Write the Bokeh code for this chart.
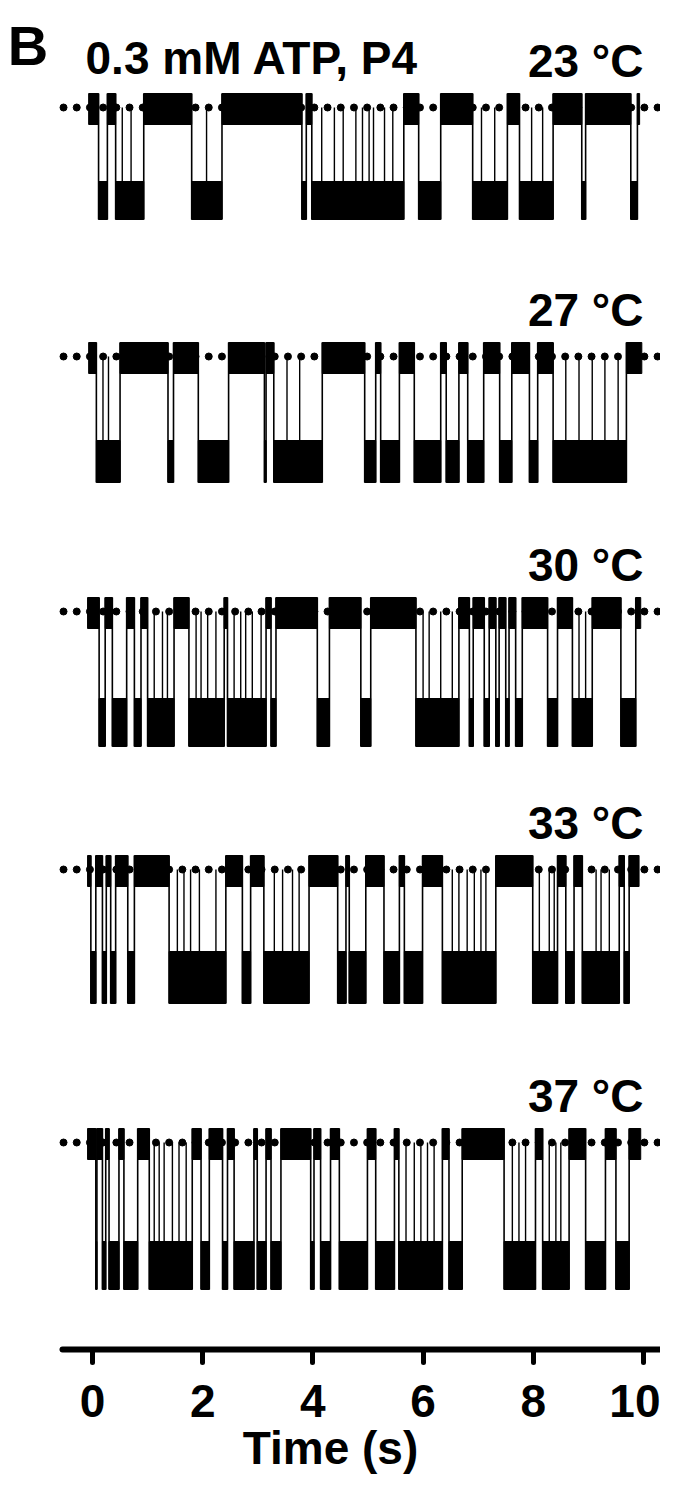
import numpy as np
from bokeh.plotting import figure
from bokeh.models import Range1d, FixedTicker
from bokeh.core.properties import value
from bokeh.embed import file_html
from bokeh.resources import INLINE

# ---------------- data ----------------
TITLE = "0.3 mM ATP, P4"
PANEL = "B"
TEMPS = ["23 °C", "27 °C", "30 °C", "33 °C", "37 °C"]
TICKS = [0, 2, 4, 6, 8, 10]

# unitary current amplitude (display units, downward = open)
AMPLITUDE = [0.93, 1.05, 1.11, 1.08, 1.23]
# record start / end (s)
REC_START = [-0.07, -0.07, -0.09, -0.09, -0.09]
REC_END = [9.93, 9.97, 9.95, 9.92, 9.95]

# open dwells (s): starts and ends
OPEN_23_START = [0.11, 0.42, 1.80, 3.80, 3.98, 5.92, 6.90, 7.75, 8.88, 9.77]
OPEN_23_END = [0.27, 0.93, 2.35, 3.88, 5.65, 6.32, 7.53, 8.36, 8.95, 9.89]
FLICK_23 = [0.54, 0.70, 2.07, 4.16, 4.39, 4.55, 4.78, 4.90, 5.02, 5.10, 5.30,
            5.45, 7.06, 7.30, 7.97, 8.17]

OPEN_27_START = [0.07, 1.37, 1.92, 3.12, 3.29, 4.94, 5.23, 5.84, 6.42, 6.81,
                 7.39, 7.93, 8.36]
OPEN_27_END = [0.50, 1.47, 2.47, 3.15, 4.17, 5.14, 5.57, 6.32, 6.65, 7.10,
               7.61, 8.08, 9.69]
FLICK_27 = [0.19, 0.29, 3.53, 3.76, 8.59, 8.83, 9.07, 9.30, 9.54]

OPEN_30_START = [0.12, 0.36, 0.76, 1.00, 1.75, 2.45, 3.24, 4.08, 4.87, 5.87,
                 6.84, 7.11, 7.32, 7.50, 7.68, 8.26, 8.71, 9.59]
OPEN_30_END = [0.23, 0.62, 0.88, 1.48, 2.39, 3.15, 3.33, 4.30, 5.05, 6.65,
               6.91, 7.20, 7.38, 7.56, 7.80, 8.44, 9.07, 9.86]
FLICK_30 = [1.12, 1.27, 1.36, 1.88, 1.97, 2.09, 2.24, 2.57, 2.69, 2.78, 2.90,
            3.06, 6.00, 6.11, 6.32, 6.53, 8.83, 8.95]

OPEN_33_START = [-0.03, 0.18, 0.33, 0.64, 1.39, 2.72, 3.11, 4.45, 4.66, 5.29,
                 5.66, 6.35, 7.99, 8.59, 8.89, 9.65]
OPEN_33_END = [0.06, 0.25, 0.42, 0.76, 2.42, 2.87, 3.93, 4.60, 4.96, 5.57,
               5.99, 7.32, 8.44, 8.74, 9.56, 9.74]
FLICK_33 = [1.54, 1.66, 1.78, 1.94, 2.24, 3.30, 3.45, 3.63, 3.75, 6.53, 6.65,
            6.80, 6.93, 7.05, 7.14, 8.11, 8.29, 8.38, 9.14, 9.23, 9.38]

OPEN_37_START = [0.06, 0.18, 0.30, 0.57, 1.03, 1.97, 2.36, 2.57, 2.99, 3.24,
                 3.96, 4.14, 4.48, 5.14, 5.56, 6.47, 7.47, 8.17, 8.95, 9.50]
OPEN_37_END = [0.08, 0.24, 0.48, 0.82, 1.81, 2.12, 2.45, 2.93, 3.15, 3.42,
               4.02, 4.32, 4.99, 5.48, 6.35, 6.71, 8.04, 8.65, 9.31, 9.74]
FLICK_37 = [1.12, 1.21, 1.30, 1.45, 1.57, 1.70, 5.69, 5.84, 5.96, 6.08, 6.20,
            7.62, 7.74, 7.86, 8.29, 8.41, 8.50]

OPEN_STARTS = [OPEN_23_START, OPEN_27_START, OPEN_30_START, OPEN_33_START, OPEN_37_START]
OPEN_ENDS = [OPEN_23_END, OPEN_27_END, OPEN_30_END, OPEN_33_END, OPEN_37_END]
FLICKS = [FLICK_23, FLICK_27, FLICK_30, FLICK_33, FLICK_37]

# ---------------- layout / style ----------------
OFFSETS = [-1.07, -3.56, -6.11, -8.69, -11.42]   # vertical placement of traces
CLOSED_UP = 0.14
CLOSED_DOWN = 0.17
OPEN_NOISE = [0.19, 0.21, 0.24, 0.26, 0.24]
LABEL_UP = 0.47
FONT_NAME = "Liberation Sans"
FONT = value(FONT_NAME)

p = figure(width=660, height=1490, output_backend="svg", toolbar_location=None,
           x_range=Range1d(-1.670, 10.309), y_range=Range1d(-13.49, 0.0),
           min_border_left=0, min_border_right=0, min_border_top=0,
           min_border_bottom=141)
p.outline_line_color = None
p.grid.visible = False
p.yaxis.visible = False
p.background_fill_color = "white"

dots = np.arange(-0.526, 10.30, 0.2396)
for i in range(5):
    base = OFFSETS[i]
    amp = AMPLITUDE[i]
    os_ = np.array(OPEN_STARTS[i])
    oe = np.array(OPEN_ENDS[i])
    cs = np.concatenate([[REC_START[i]], oe])
    ce = np.concatenate([os_, [REC_END[i]]])
    # dotted closed-level line
    p.scatter(dots, np.full(len(dots), base), size=7, color="black")
    # closed dwells
    p.quad(left=cs, right=ce, top=base + CLOSED_UP, bottom=base - CLOSED_DOWN,
           fill_color="black", line_color="black", line_width=1)
    # open dwells
    lvl = base - amp
    p.quad(left=os_, right=oe, top=lvl + OPEN_NOISE[i], bottom=lvl - OPEN_NOISE[i],
           fill_color="black", line_color="black", line_width=1)
    # transitions
    edges = np.concatenate([os_, oe])
    p.segment(x0=edges, y0=np.full(len(edges), base + CLOSED_UP),
              x1=edges, y1=np.full(len(edges), lvl - OPEN_NOISE[i]),
              line_color="black", line_width=1.6)
    # brief closures inside bursts
    f = np.array(FLICKS[i])
    p.segment(x0=f, y0=np.full(len(f), lvl), x1=f, y1=np.full(len(f), base),
              line_color="black", line_width=1.4)

# temperature labels
p.text(x=[10.0] * 5, y=[o + LABEL_UP for o in OFFSETS], text=TEMPS,
       text_font=FONT, text_font_style="bold", text_font_size="46px",
       text_align="right", text_baseline="alphabetic", text_color="black")
# title
p.text(x=[-0.127], y=[-0.57], text=[TITLE], text_font=FONT, text_font_style="bold",
       text_font_size="46px", text_align="left", text_baseline="alphabetic",
       text_color="black")
# panel letter
p.text(x=[-1.54], y=[-0.45], text=[PANEL], text_font=FONT, text_font_style="bold",
       text_font_size="56px", text_align="left", text_baseline="alphabetic",
       text_color="black")

ax = p.xaxis[0]
ax.bounds = (-0.544, 10.309)
ax.ticker = FixedTicker(ticks=TICKS)
ax.axis_line_width = 6
ax.axis_line_cap = "round"
ax.major_tick_line_width = 5
ax.major_tick_line_cap = "round"
ax.major_tick_in = 0
ax.major_tick_out = 13
ax.minor_tick_out = 0
ax.minor_tick_in = 0
ax.major_label_standoff = 22
ax.major_label_text_font = FONT_NAME
ax.major_label_text_font_style = "bold"
ax.major_label_text_font_size = "46px"
ax.major_label_text_color = "black"
ax.axis_label = "Time (s)"
ax.axis_label_standoff = 2
ax.axis_label_text_font = FONT_NAME
ax.axis_label_text_font_style = "bold"
ax.axis_label_text_font_size = "46px"
ax.axis_label_text_color = "black"

open("out.html", "w").write(file_html(p, INLINE))
